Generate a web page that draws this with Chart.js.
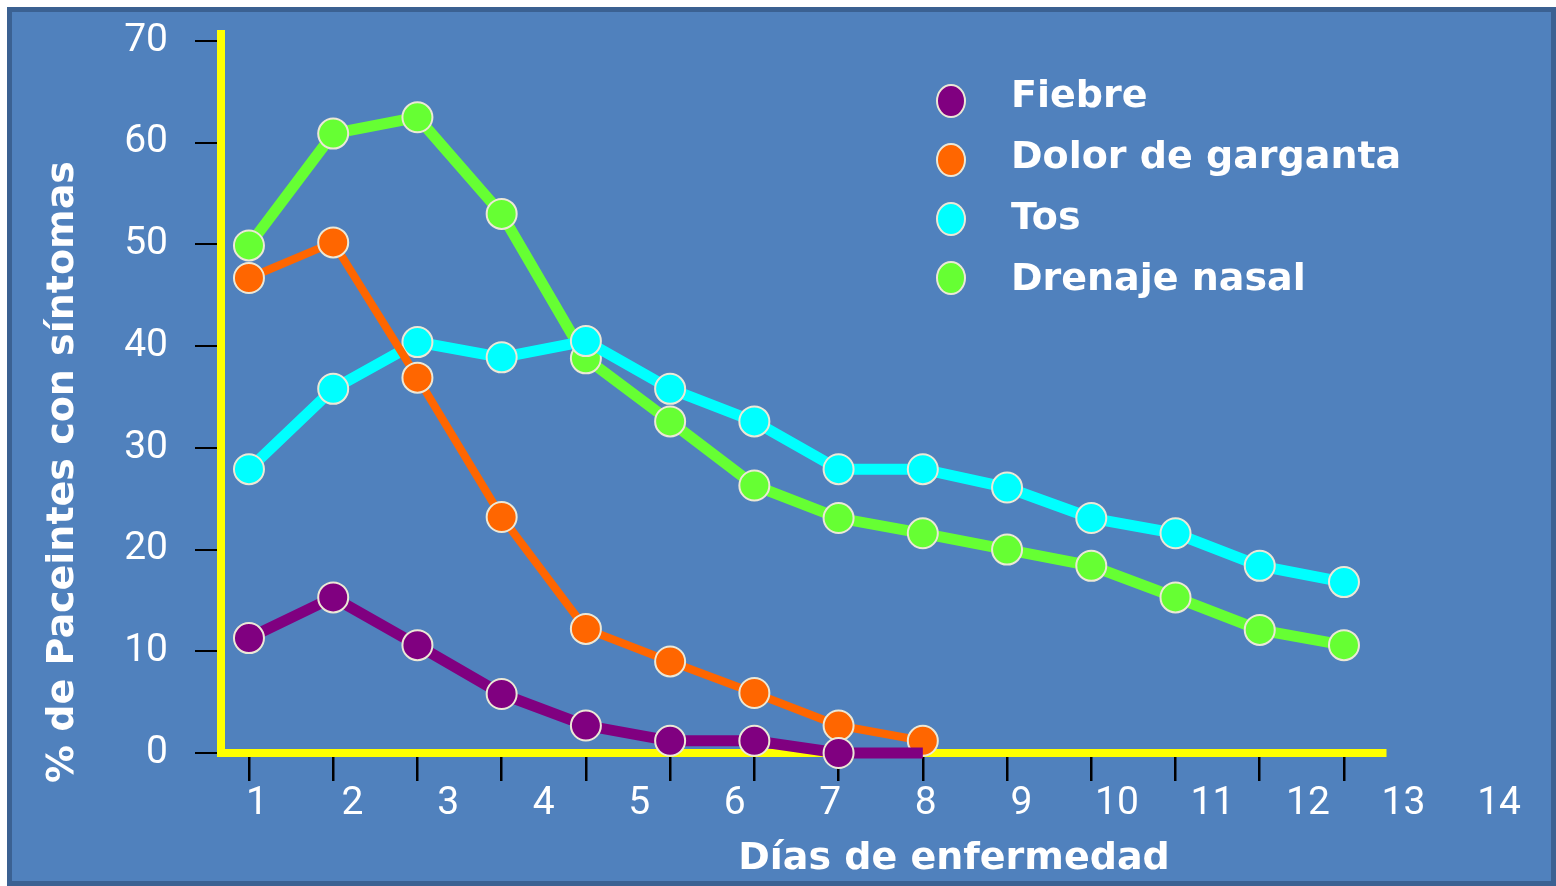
<!DOCTYPE html>
<html lang="es">
<head>
<meta charset="utf-8">
<title>Síntomas por día de enfermedad</title>
<script src="https://cdn.jsdelivr.net/npm/chart.js@4.4.1/dist/chart.umd.min.js"></script>
<style>
  html, body { margin: 0; padding: 0; background: #ffffff; overflow: hidden; }
  #marco {
    position: absolute; left: 7px; top: 7px;
    width: 1549px; height: 879px; box-sizing: border-box;
    border: 5px solid #3b6192; background: #5081bd;
  }
  #grafico { position: absolute; left: 0; top: 0; }
</style>
</head>
<body>
<div id="marco"></div>
<canvas id="grafico" width="1556" height="886"></canvas>
<script>
// Días de enfermedad (posiciones de las marcas del eje X)
const dias = [1, 2, 3, 4, 5, 6, 7, 8, 9, 10, 11, 12, 13, 14];
// Rótulos que se escriben bajo el eje X
const etiquetasDias = ['1', '2', '3', '4', '5', '6', '7', '8', '9', '10', '11', '12', '13', '14'];
// Valores marcados en el eje Y
const marcasEjeY = [0, 10, 20, 30, 40, 50, 60, 70];

// % de pacientes con cada síntoma, por día
const fiebre        = [11.3, 15.3, 10.6, 5.8, 2.7, 1.2, 1.2, 0.0, 0.0];
const dolorGarganta = [46.7, 50.2, 36.9, 23.2, 12.2, 9.0, 5.9, 2.7, 1.2];
const tos           = [27.9, 35.8, 40.4, 38.9, 40.5, 35.8, 32.6, 27.9, 27.9, 26.1, 23.1, 21.6, 18.4, 16.8];
const drenajeNasal  = [49.9, 60.9, 62.5, 53.0, 38.8, 32.6, 26.3, 23.1, 21.6, 20.0, 18.4, 15.3, 12.1, 10.6];

const series = [
  { label: 'Fiebre',            valores: fiebre,        color: '#800080', grosor: 11, conMarcador: 8 },
  { label: 'Dolor de garganta', valores: dolorGarganta, color: '#ff6600', grosor: 8,  conMarcador: 9 },
  { label: 'Tos',               valores: tos,           color: '#00ffff', grosor: 11, conMarcador: 14 },
  { label: 'Drenaje nasal',     valores: drenajeNasal,  color: '#66ff33', grosor: 11, conMarcador: 14 }
];

const BORDE_MARCADOR = '#ece8d6';
const FUENTE_NEGRITA = 'bold 38px "DejaVu Sans"';

// Títulos de los ejes y leyenda
const rotulos = {
  id: 'rotulos',
  afterDraw(chart) {
    const ctx = chart.ctx;
    ctx.save();
    ctx.fillStyle = '#ffffff';
    ctx.font = FUENTE_NEGRITA;
    ctx.textBaseline = 'alphabetic';

    ctx.textAlign = 'center';
    ctx.fillText('Días de enfermedad', 954, 869);

    ctx.save();
    ctx.translate(73, 472);
    ctx.rotate(-Math.PI / 2);
    ctx.fillText('% de Paceintes con síntomas', 0, 0);
    ctx.restore();

    ctx.textAlign = 'left';
    chart.data.datasets.forEach((ds, i) => {
      const cy = 101 + i * 59;
      ctx.beginPath();
      ctx.ellipse(951, cy, 14, 16, 0, 0, Math.PI * 2);
      ctx.fillStyle = ds.borderColor;
      ctx.fill();
      ctx.lineWidth = 2;
      ctx.strokeStyle = BORDE_MARCADOR;
      ctx.stroke();
      ctx.fillStyle = '#ffffff';
      ctx.fillText(ds.label, 1011, 107 + i * 61);
    });
    ctx.restore();
  }
};

const fuenteNumeros = { family: 'Roboto', size: 39, weight: 'normal' };

new Chart(document.getElementById('grafico'), {
  type: 'line',
  data: {
    datasets: series.map(s => ({
      label: s.label,
      data: s.valores.map((v, i) => ({ x: dias[i], y: v })),
      borderColor: s.color,
      backgroundColor: s.color,
      borderWidth: s.grosor,
      borderJoinStyle: 'miter',
      borderCapStyle: 'butt',
      tension: 0,
      clip: false,
      pointRadius: c => (c.dataIndex < s.conMarcador ? 15 : 0),
      pointBorderWidth: 2,
      pointBorderColor: BORDE_MARCADOR,
      pointBackgroundColor: s.color,
      xAxisID: 'x',
      yAxisID: 'y'
    }))
  },
  options: {
    responsive: false,
    animation: false,
    events: [],
    layout: { padding: { left: 0, top: 34, right: 171, bottom: 0 } },
    plugins: { legend: { display: false }, tooltip: { enabled: false } },
    scales: {
      x: {
        type: 'linear', position: 'bottom', weight: 0,
        min: 0.668, max: 14.487,
        afterBuildTicks: s => { s.ticks = dias.map(v => ({ value: v })); },
        afterFit: s => { s.height = 28; },
        ticks: { display: false },
        grid: { drawOnChartArea: false, drawTicks: true, tickLength: 28, color: '#000000', lineWidth: 2.5 },
        border: { display: true, color: '#ffff00', width: 8 }
      },
      xl: {
        type: 'linear', position: 'bottom', weight: 1,
        min: 0.623, max: 12.806,
        afterBuildTicks: s => { s.ticks = etiquetasDias.map((t, i) => ({ value: i + 1 })); },
        afterFit: s => { s.height = 105; },
        ticks: {
          autoSkip: false, maxRotation: 0, minRotation: 0, padding: 0,
          color: '#ffffff', font: fuenteNumeros,
          callback: (v, i) => etiquetasDias[i]
        },
        grid: { display: false, drawTicks: false },
        border: { display: false }
      },
      y: {
        type: 'linear', position: 'left',
        min: 0, max: 70.69,
        afterBuildTicks: s => { s.ticks = marcasEjeY.map(v => ({ value: v })); },
        afterFit: s => { s.width = 221; s.paddingTop = 0; s.paddingBottom = 0; },
        ticks: { padding: 27, color: '#ffffff', font: fuenteNumeros, callback: v => String(v) },
        grid: { drawOnChartArea: false, drawTicks: true, tickLength: 26, color: '#000000', lineWidth: 2 },
        border: { display: true, color: '#ffff00', width: 8 }
      }
    }
  },
  plugins: [rotulos]
});
</script>
</body>
</html>
